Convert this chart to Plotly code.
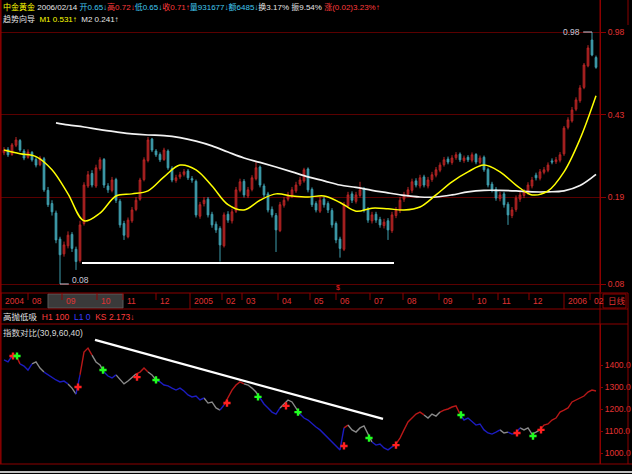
import math
import plotly.graph_objects as go

# ---------------- data ----------------
stock_name = "中金黄金"

opens = [
    0.295, 0.305, 0.290, 0.318, 0.333, 0.300, 0.282, 0.296, 0.276, 0.262,
    0.278, 0.203, 0.178, 0.162, 0.125, 0.108, 0.117, 0.131, 0.113, 0.101,
    0.146, 0.212, 0.240, 0.212, 0.252, 0.276, 0.212, 0.203, 0.226, 0.182,
    0.146, 0.128, 0.150, 0.168, 0.186, 0.226, 0.273, 0.338, 0.300, 0.290,
    0.276, 0.300, 0.252, 0.224, 0.232, 0.238, 0.246, 0.228, 0.222, 0.157,
    0.178, 0.186, 0.160, 0.145, 0.139, 0.117, 0.160, 0.150, 0.165, 0.203,
    0.222, 0.192, 0.205, 0.228, 0.256, 0.212, 0.196, 0.168, 0.158, 0.136,
    0.175, 0.186, 0.192, 0.202, 0.216, 0.223, 0.251, 0.205, 0.178, 0.165,
    0.186, 0.178, 0.166, 0.146, 0.125, 0.113, 0.174, 0.196, 0.182, 0.193,
    0.206, 0.168, 0.150, 0.160, 0.152, 0.143, 0.150, 0.136, 0.158, 0.166,
    0.186, 0.195, 0.203, 0.223, 0.212, 0.232, 0.212, 0.226, 0.236, 0.248,
    0.262, 0.277, 0.268, 0.281, 0.291, 0.273, 0.282, 0.274, 0.290, 0.268,
    0.282, 0.250, 0.216, 0.205, 0.187, 0.196, 0.177, 0.158, 0.168, 0.186,
    0.193, 0.199, 0.212, 0.236, 0.229, 0.243, 0.248, 0.272, 0.270, 0.274,
    0.292, 0.380, 0.405, 0.455, 0.495, 0.565, 0.700, 0.905, 0.760]

highs = [
    0.312, 0.312, 0.325, 0.345, 0.338, 0.306, 0.305, 0.300, 0.282, 0.286,
    0.283, 0.210, 0.184, 0.166, 0.128, 0.122, 0.135, 0.134, 0.116, 0.150,
    0.220, 0.246, 0.248, 0.262, 0.282, 0.280, 0.218, 0.232, 0.230, 0.186,
    0.150, 0.155, 0.172, 0.190, 0.230, 0.282, 0.345, 0.342, 0.306, 0.296,
    0.310, 0.305, 0.258, 0.237, 0.244, 0.251, 0.251, 0.234, 0.226, 0.181,
    0.190, 0.190, 0.164, 0.149, 0.142, 0.163, 0.165, 0.169, 0.210, 0.228,
    0.227, 0.210, 0.236, 0.269, 0.260, 0.217, 0.200, 0.173, 0.162, 0.181,
    0.190, 0.200, 0.210, 0.221, 0.232, 0.254, 0.255, 0.209, 0.182, 0.190,
    0.191, 0.182, 0.170, 0.149, 0.128, 0.181, 0.200, 0.201, 0.200, 0.221,
    0.210, 0.172, 0.164, 0.164, 0.156, 0.153, 0.154, 0.164, 0.172, 0.190,
    0.200, 0.210, 0.228, 0.229, 0.237, 0.237, 0.232, 0.244, 0.256, 0.268,
    0.283, 0.284, 0.288, 0.297, 0.296, 0.287, 0.288, 0.296, 0.294, 0.287,
    0.287, 0.254, 0.221, 0.210, 0.200, 0.200, 0.181, 0.172, 0.193, 0.200,
    0.206, 0.220, 0.232, 0.242, 0.251, 0.256, 0.268, 0.279, 0.283, 0.297,
    0.385, 0.420, 0.465, 0.512, 0.578, 0.720, 0.860, 0.980, 0.775]

lows = [
    0.288, 0.283, 0.286, 0.312, 0.298, 0.274, 0.278, 0.270, 0.255, 0.258,
    0.200, 0.172, 0.158, 0.120, 0.080, 0.105, 0.114, 0.110, 0.092, 0.099,
    0.143, 0.208, 0.209, 0.208, 0.247, 0.208, 0.198, 0.199, 0.179, 0.140,
    0.124, 0.126, 0.147, 0.165, 0.183, 0.222, 0.268, 0.297, 0.283, 0.269,
    0.272, 0.249, 0.220, 0.219, 0.227, 0.233, 0.225, 0.219, 0.155, 0.153,
    0.173, 0.155, 0.140, 0.133, 0.100, 0.115, 0.147, 0.146, 0.162, 0.199,
    0.189, 0.188, 0.201, 0.224, 0.209, 0.189, 0.163, 0.155, 0.110, 0.134,
    0.171, 0.182, 0.188, 0.198, 0.212, 0.219, 0.199, 0.172, 0.163, 0.162,
    0.171, 0.162, 0.140, 0.120, 0.104, 0.111, 0.170, 0.179, 0.178, 0.189,
    0.163, 0.147, 0.146, 0.147, 0.140, 0.139, 0.124, 0.133, 0.154, 0.162,
    0.181, 0.190, 0.198, 0.209, 0.207, 0.209, 0.207, 0.221, 0.231, 0.243,
    0.257, 0.263, 0.262, 0.275, 0.269, 0.267, 0.269, 0.268, 0.263, 0.262,
    0.244, 0.209, 0.199, 0.183, 0.182, 0.171, 0.144, 0.154, 0.164, 0.181,
    0.188, 0.194, 0.207, 0.224, 0.224, 0.238, 0.243, 0.263, 0.264, 0.268,
    0.286, 0.372, 0.398, 0.446, 0.485, 0.555, 0.690, 0.770, 0.680]

closes = [
    0.303, 0.289, 0.319, 0.335, 0.303, 0.280, 0.297, 0.275, 0.261, 0.280,
    0.204, 0.176, 0.164, 0.124, 0.107, 0.118, 0.130, 0.114, 0.100, 0.144,
    0.214, 0.237, 0.214, 0.254, 0.275, 0.214, 0.204, 0.225, 0.184, 0.144,
    0.130, 0.151, 0.167, 0.184, 0.225, 0.275, 0.335, 0.303, 0.289, 0.275,
    0.303, 0.254, 0.225, 0.230, 0.237, 0.244, 0.230, 0.225, 0.159, 0.176,
    0.184, 0.159, 0.144, 0.137, 0.118, 0.159, 0.151, 0.164, 0.204, 0.221,
    0.194, 0.204, 0.230, 0.254, 0.214, 0.194, 0.167, 0.159, 0.137, 0.176,
    0.184, 0.194, 0.204, 0.214, 0.225, 0.249, 0.204, 0.176, 0.167, 0.184,
    0.176, 0.167, 0.144, 0.124, 0.114, 0.176, 0.194, 0.184, 0.194, 0.204,
    0.167, 0.151, 0.159, 0.151, 0.144, 0.148, 0.137, 0.159, 0.167, 0.184,
    0.194, 0.204, 0.221, 0.214, 0.230, 0.214, 0.225, 0.237, 0.249, 0.261,
    0.275, 0.269, 0.280, 0.289, 0.275, 0.280, 0.275, 0.289, 0.269, 0.280,
    0.249, 0.214, 0.204, 0.188, 0.194, 0.176, 0.159, 0.167, 0.188, 0.194,
    0.200, 0.214, 0.225, 0.230, 0.244, 0.249, 0.261, 0.269, 0.275, 0.289,
    0.377, 0.409, 0.451, 0.499, 0.562, 0.706, 0.836, 0.780, 0.690]

# M1 (yellow) and M2 (white) trend lines, sampled at candle indices
m1_idx = list(range(0, 149, 4))
m1_vals = [0.303, 0.292, 0.284, 0.249, 0.196, 0.150, 0.162, 0.192, 0.196, 0.202,
           0.232, 0.261, 0.249, 0.212, 0.176, 0.167, 0.184, 0.196, 0.192, 0.190,
           0.192, 0.180, 0.165, 0.170, 0.169, 0.167, 0.172, 0.194, 0.221, 0.244,
           0.261, 0.244, 0.214, 0.194, 0.202, 0.244, 0.338, 0.520]
m2_idx = [13] + list(range(16, 149, 4))
m2_vals = [0.397, 0.389, 0.381, 0.371, 0.363, 0.356, 0.352, 0.350, 0.343, 0.331,
           0.316, 0.297, 0.280, 0.268, 0.256, 0.244, 0.232, 0.223, 0.214, 0.209,
           0.203, 0.198, 0.193, 0.190, 0.190, 0.194, 0.200, 0.203, 0.203, 0.202,
           0.200, 0.200, 0.202, 0.213, 0.238]

support_idx = [19.5, 97.5]
support_val = [0.0986, 0.0986]

price_ticks = [0.98, 0.43, 0.19, 0.08]
price_tick_text = ["0.98", "0.43", "0.19", "0.08"]

date_labels = ["2004", "08", "09", "10", "11", "12", "2005", "02", "03", "04",
               "05", "06", "07", "08", "09", "10", "11", "12", "2006", "02"]
date_pos = [-0.75, 6, 14.5, 23.25, 29.75, 38, 46.5, 54.5, 59.5, 68.5,
            76.5, 83, 91.5, 99.75, 108.75, 117.25, 123.5, 131.25, 140, 146.5]

# lower panel: 指数对比
idx_vals = [
    1423, 1414, 1441, 1445, 1405, 1395, 1377, 1405, 1414, 1386,
    1368, 1355, 1345, 1332, 1323, 1327, 1314, 1295, 1268, 1355,
    1459, 1477, 1445, 1414, 1400, 1368, 1350, 1341, 1355, 1332,
    1314, 1327, 1341, 1359, 1368, 1386, 1368, 1355, 1332, 1323,
    1309, 1305, 1295, 1286, 1295, 1282, 1264, 1255, 1259, 1241,
    1250, 1227, 1232, 1205, 1195, 1218, 1250, 1286, 1309, 1323,
    1314, 1309, 1295, 1277, 1250, 1223, 1205, 1186, 1177, 1205,
    1223, 1241, 1232, 1205, 1177, 1159, 1150, 1132, 1118, 1105,
    1086, 1068, 1050, 1032, 1014, 1114, 1127, 1105, 1095, 1114,
    1123, 1086, 1050, 1036, 1041, 1023, 1014, 1027, 1041, 1068,
    1105, 1141, 1159, 1177, 1186, 1173, 1159, 1177, 1168, 1186,
    1195, 1200, 1209, 1214, 1177, 1150, 1159, 1141, 1127, 1132,
    1105, 1091, 1086, 1095, 1105, 1091, 1095, 1086, 1091, 1114,
    1105, 1114, 1086, 1095, 1105, 1127, 1132, 1150, 1159, 1186,
    1195, 1205, 1232, 1241, 1250, 1259, 1277, 1286, 1282]
idx_state = ("BBRRBBBGGG" "BBBBBBGGBR" "RRGGGBBBGG" "GGGRRRGGBB" "BBBBBBBBBB"
             "GGGGBRRRRR" "GGGGBBBBBG" "GGGGBBBBBB" "BBBBBRGGGG" "GGBBBBBBRR"
             "RRRRRGGGGR" "RRRRBBBBBB" "BBBBGGBBBG" "GGGGRRRRRR" "RRRRRRRRR")

buy_idx = [2.25, 18.5, 33.25, 55.75, 70.5, 85, 98, 128.25, 134.25]
buy_val = [1441, 1300, 1345, 1227, 1214, 1032, 1036, 1091, 1105]
sell_idx = [3.25, 24.75, 38, 63.5, 73.5, 91.25, 114.25, 132.25]
sell_val = [1441, 1377, 1332, 1255, 1186, 1068, 1173, 1077]

trend_idx = [22.75, 94.75]
trend_val = [1514, 1155]

idx_ticks = [1000, 1100, 1200, 1300, 1400]
idx_tick_text = ["1000.0", "1100.0", "1200.0", "1300.0", "1400.0"]

# ---------------- styling / layout helpers ----------------
W, H = 632, 474
FONT = "Liberation Sans Narrow, Liberation Sans, Arial, Noto Sans CJK SC, sans-serif"
FRAME = "#8c0000"
GRID = "#5a0000"
LRED = "#e03232"
FS = 8.5


def py(y):
    return 1 - y / H


def pxx(x):
    return x / W


fig = go.Figure()
N = len(closes)
xs = list(range(N))

fig.add_trace(go.Candlestick(
    x=xs, open=opens, high=highs, low=lows, close=closes,
    increasing=dict(line=dict(color="#b82626", width=1), fillcolor="#8c1616"),
    decreasing=dict(line=dict(color="#3f9eae", width=1), fillcolor="#3f9eae"),
    whiskerwidth=0, hoverinfo="skip", showlegend=False, xaxis="x", yaxis="y"))

fig.add_trace(go.Scatter(x=m2_idx, y=m2_vals, mode="lines",
                         line=dict(color="#f2f2f2", width=1.7, shape="spline"),
                         hoverinfo="skip", yaxis="y"))
fig.add_trace(go.Scatter(x=m1_idx, y=m1_vals, mode="lines",
                         line=dict(color="#ffff00", width=1.5, shape="spline"),
                         hoverinfo="skip", yaxis="y"))
fig.add_trace(go.Scatter(x=support_idx, y=support_val, mode="lines",
                         line=dict(color="#ffffff", width=2),
                         hoverinfo="skip", yaxis="y"))

# peak / trough markers
pk = max(range(N), key=lambda k: highs[k])
lo = min(range(N), key=lambda k: lows[k])
fig.add_trace(go.Scatter(x=[pk - 2.2, pk], y=[highs[pk], highs[pk]], mode="lines",
                         line=dict(color="#c8c8d8", width=1), hoverinfo="skip", yaxis="y"))
fig.add_trace(go.Scatter(x=[lo, lo + 2.2], y=[lows[lo], lows[lo]], mode="lines",
                         line=dict(color="#c8c8d8", width=1), hoverinfo="skip", yaxis="y"))

# lower panel segments by state
seg_colors = {"R": "#b81818", "G": "#8a8a8a", "B": "#1c1cc0"}
segs = {k: ([], []) for k in seg_colors}
i = 0
while i < N:
    s = idx_state[i]
    j = i
    while j + 1 < N and idx_state[j + 1] == s:
        j += 1
    end = min(j + 1, N - 1)
    sx, sy = segs[s]
    sx.extend(range(i, end + 1))
    sy.extend(idx_vals[i:end + 1])
    sx.append(None)
    sy.append(None)
    i = j + 1
for s, col in seg_colors.items():
    fig.add_trace(go.Scatter(x=segs[s][0], y=segs[s][1], mode="lines",
                             line=dict(color=col, width=1.4), hoverinfo="skip",
                             connectgaps=False, yaxis="y2"))

fig.add_trace(go.Scatter(x=trend_idx, y=trend_val, mode="lines",
                         line=dict(color="#ffffff", width=2.2), hoverinfo="skip", yaxis="y2"))
fig.add_trace(go.Scatter(x=buy_idx, y=buy_val, mode="markers",
                         marker=dict(symbol="cross", size=6, color="#ff2020"),
                         hoverinfo="skip", yaxis="y2"))
fig.add_trace(go.Scatter(x=sell_idx, y=sell_val, mode="markers",
                         marker=dict(symbol="cross", size=6, color="#20ff20"),
                         hoverinfo="skip", yaxis="y2"))

# ---------------- shapes ----------------
shapes = []


def hline(y, x0=0, x1=628, color=FRAME, width=1):
    shapes.append(dict(type="line", xref="paper", yref="paper", x0=pxx(x0), x1=pxx(x1),
                       y0=py(y), y1=py(y), line=dict(color=color, width=width)))


def vline(x, y0, y1, color=FRAME, width=1):
    shapes.append(dict(type="line", xref="paper", yref="paper", x0=pxx(x), x1=pxx(x),
                       y0=py(y0), y1=py(y1), line=dict(color=color, width=width)))


vline(0.8, 0, 464, width=1.5)
vline(600, 0, 464)
vline(628, 293, 464)
vline(628, 0, 25)
hline(293)
hline(309)
hline(324)
hline(464, 0, 632)
hline(472, 0, 632, color="#ffffff", width=1.5)

# selection box in the date row
shapes.append(dict(type="rect", xref="paper", yref="paper", x0=pxx(48), x1=pxx(123),
                   y0=py(308), y1=py(294), fillcolor="#3a3a3a",
                   line=dict(color="#5a5a5a", width=1), layer="below"))
# 日线 box
shapes.append(dict(type="rect", xref="paper", yref="paper", x0=pxx(603), x1=pxx(626),
                   y0=py(308), y1=py(294), line=dict(color=FRAME, width=1)))

for p, lab in zip(date_pos, date_labels):
    long_tick = len(lab) == 4
    shapes.append(dict(type="line", xref="x", yref="paper", x0=p, x1=p,
                       y0=py(293), y1=py(309 if long_tick else 300),
                       line=dict(color=FRAME, width=1)))

# ---------------- annotations ----------------
annotations = []


def ann(x, y, text, color="#e6e6e6", size=FS, xanchor="left"):
    annotations.append(dict(x=pxx(x), y=py(y), xref="paper", yref="paper", text=text,
                            showarrow=False, xanchor=xanchor, yanchor="middle",
                            font=dict(color=color, size=size, family=FONT)))


def sp(t, c):
    return f'<span style="color:{c}">{t}</span>'


CY = "#40c8f0"
RD = "#ff3c3c"
WH = "#e6e6e6"
header1 = (sp(stock_name, "#ffff00") + " " + sp("2006/02/14", WH) + " "
           + sp("开0.65↓", CY) + sp("高0.72↓", RD) + sp("低0.65↓", CY) + sp("收0.71↑", RD)
           + sp("量931677↓", CY) + sp("额6485↓", CY) + sp("换3.17% ", WH)
           + sp("振9.54% ", WH) + sp("涨(0.02)3.23%↑", RD))
ann(1, 7, header1, size=8)
header2 = sp("趋势向导", WH) + "  " + sp("M1 0.531↑", "#ffff00") + "  " + sp("M2 0.241↑", WH)
ann(1, 19, header2, size=8)
row3 = (sp("高抛低吸", WH) + "  " + sp("H1 100", RD) + "  " + sp("L1 0", "#3c3cff")
        + "  " + sp("KS 2.173↓", RD))
ann(1, 317, row3, size=8.5)
ann(1, 333, "指数对比(30,9,60,40)", color="#d8d8d8", size=8.5)
ann(606, 301, "日线", color=LRED, size=8.5)

for p, lab in zip(date_pos, date_labels):
    annotations.append(dict(x=p + 0.5, y=py(301), xref="x", yref="paper", text=lab,
                            showarrow=False, xanchor="left", yanchor="middle",
                            font=dict(color=LRED, size=FS, family=FONT)))

# peak / trough labels
annotations.append(dict(x=pk - 2.4, y=math.log10(highs[pk]), xref="x", yref="y",
                        text=f"{highs[pk]:.2f}", showarrow=False, xanchor="right",
                        yanchor="middle", font=dict(color="#c8c8d8", size=FS, family=FONT)))
annotations.append(dict(x=lo + 2.5, y=math.log10(lows[lo]), xref="x", yref="y",
                        text=f"{lows[lo]:.2f}", showarrow=False, xanchor="left",
                        yanchor="bottom", yshift=-3,
                        font=dict(color="#c8c8d8", size=FS, family=FONT)))
# info mark
annotations.append(dict(x=83.5, y=py(287), xref="x", yref="paper", text="$",
                        showarrow=False, font=dict(color="#ff2020", size=7, family=FONT)))

fig.update_layout(
    width=W, height=H, margin=dict(l=0, r=0, t=0, b=0),
    paper_bgcolor="black", plot_bgcolor="black", showlegend=False,
    hovermode=False, boxgap=0.4,
    xaxis=dict(domain=[0, 600 / W], range=[-1, 149], visible=False,
               rangeslider=dict(visible=False), fixedrange=True),
    yaxis=dict(domain=[py(292), 1], type="log", range=[-1.1314, 0.1294], side="right",
               tickvals=price_ticks, ticktext=price_tick_text, showgrid=True,
               gridcolor=GRID, gridwidth=1, ticks="outside", ticklen=5, tickcolor=FRAME,
               tickfont=dict(color=LRED, size=FS, family=FONT), showline=True,
               linecolor=FRAME, zeroline=False, fixedrange=True),
    yaxis2=dict(domain=[py(464), py(324)], range=[950, 1586.4], side="right", anchor="x",
                tickvals=idx_ticks, ticktext=idx_tick_text, showgrid=False,
                ticks="outside", ticklen=2, tickcolor=FRAME,
                tickfont=dict(color=LRED, size=FS, family=FONT), showline=True,
                linecolor=FRAME, zeroline=False, fixedrange=True),
    shapes=shapes, annotations=annotations,
)

fig.write_html(
    "out.html",
    config={"displayModeBar": False, "staticPlot": True},
    post_script="document.body.style.margin='0px';document.body.style.padding='0px';"
                "document.body.style.overflow='hidden';",
)
